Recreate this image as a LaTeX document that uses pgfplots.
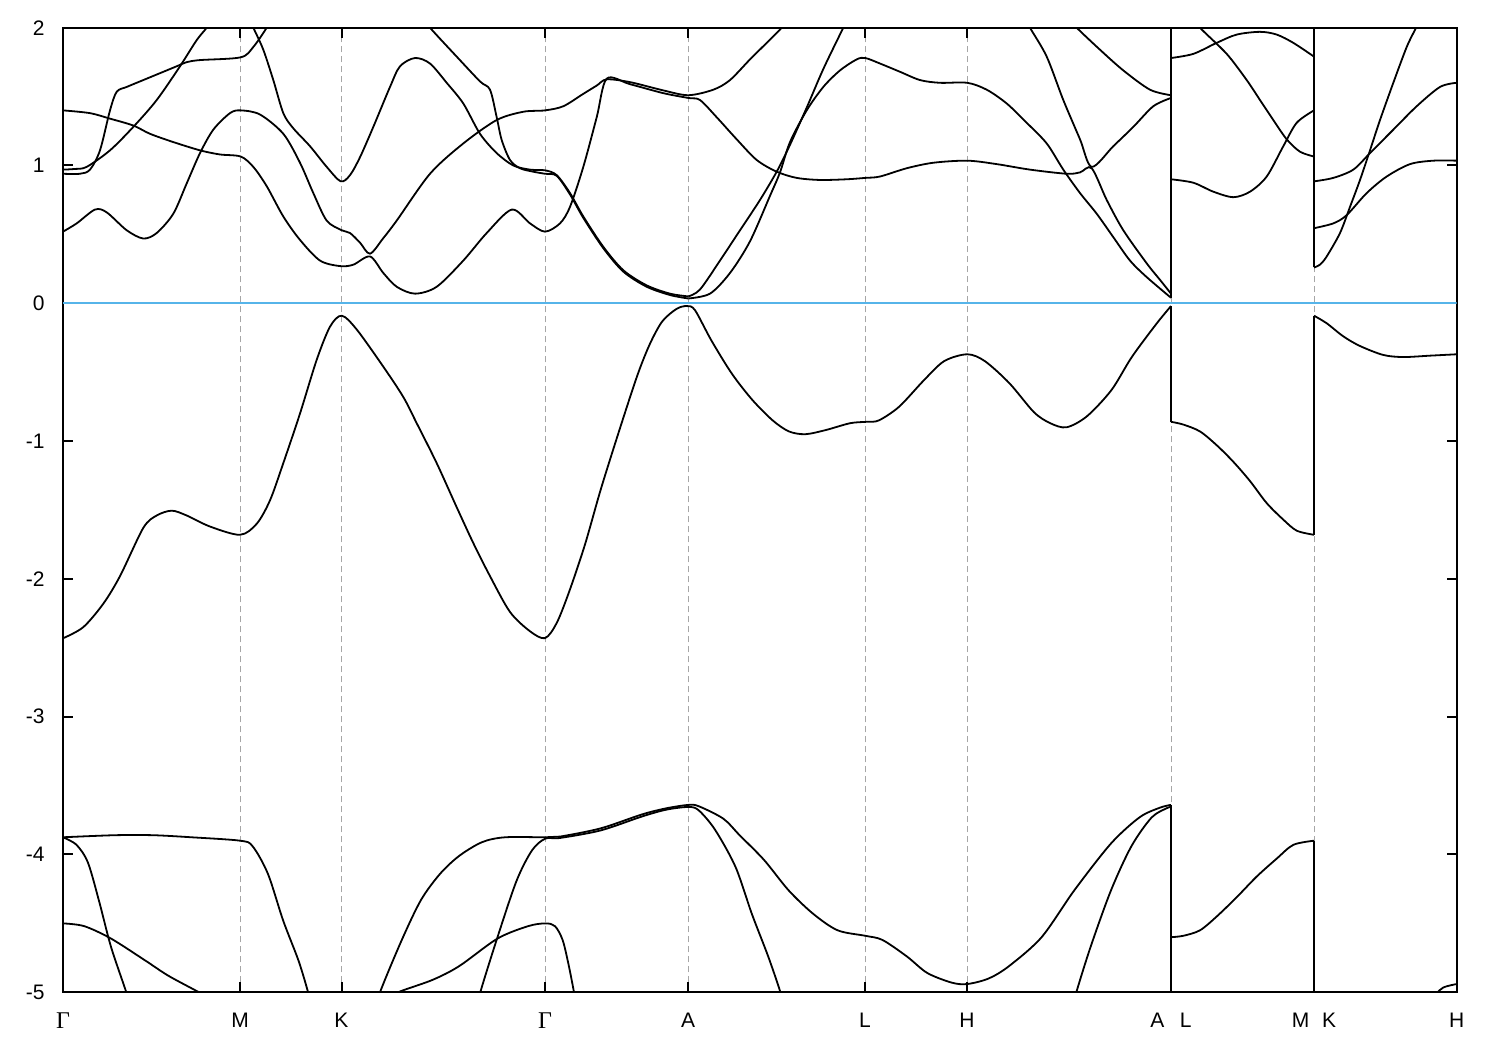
\documentclass[border=0pt]{standalone}
\usepackage{pgfplots}
\pgfplotsset{compat=1.18}
\usepackage{fontspec}
\setmainfont{Liberation Sans}
\newfontfamily\gfont{Liberation Serif}
\definecolor{fermi}{RGB}{86,180,233}
\begin{document}
\begin{tikzpicture}
\useasboundingbox (-31.5pt,-28.85pt) rectangle (718.5pt,496.15pt);
\pgfplotsset{band/.style={black, line width=0.9pt, smooth}, jump/.style={black, line width=0.9pt}}
\begin{axis}[
  at={(0,0)}, anchor=south west,
  scale only axis, width=696.85pt, height=482.3pt,
  xmin=63, xmax=1456.7, ymin=-5, ymax=2,
  axis line style={line width=1pt},
  tick style={black, line width=1pt},
  major tick length=5pt, tick align=inside,
  xtick={63,240,341.5,545,688,865,967,1171,1314,1456.7},
  xticklabels={{\gfont\fontsize{12}{12}\selectfont Γ},M,K,{\gfont\fontsize{12}{12}\selectfont Γ},A,L,H,{A\hspace{7.8pt}L},{M\hspace{6.3pt}K},H},
  ytick={-5,-4,-3,-2,-1,0,1,2},
  yticklabels={-5,-4,-3,-2,-1,0,1,2},
  xmajorgrids, major grid style={densely dashed, gray!70, line width=0.5pt},
  every tick label/.append style={font=\fontsize{10.5}{12}\selectfont},
  yticklabel style={inner sep=0pt, xshift=-9pt},
  xticklabel style={inner sep=0pt, yshift=-10pt},
]
% Fermi level
\addplot[fermi, line width=1pt] coordinates {(63,0) (1456.7,0)};
% valence band
\addplot[band] coordinates {(63.3,-2.43) (83.3,-2.35) (103.3,-2.18) (120,-1.98) (143.3,-1.63) (156.7,-1.54) (171.7,-1.505) (186.7,-1.54) (210,-1.62) (240,-1.68) (256.7,-1.60) (270,-1.43) (283.3,-1.16) (300,-0.80) (316.7,-0.41) (330,-0.17) (341.7,-0.09) (356.7,-0.19) (383.3,-0.46) (403.3,-0.68) (416.7,-0.87) (436.7,-1.16) (456.7,-1.48) (473.3,-1.74) (490,-1.98) (510,-2.24) (530,-2.38) (545,-2.43) (556.7,-2.32) (569.3,-2.09) (585,-1.75) (601.2,-1.34) (621.6,-0.87) (638,-0.51) (650.2,-0.29) (662.4,-0.13) (676.7,-0.04) (687,-0.02) (695,-0.05) (711.4,-0.27) (731.8,-0.51) (752.2,-0.70) (772.7,-0.85) (789,-0.93) (805.3,-0.95) (825.7,-0.92) (850.2,-0.87) (866.5,-0.86) (878.8,-0.85) (899.2,-0.75) (923.7,-0.56) (944.1,-0.42) (967.3,-0.37) (984.9,-0.42) (1009.4,-0.58) (1033.9,-0.79) (1050.2,-0.87) (1066.5,-0.90) (1086.9,-0.82) (1111.4,-0.63) (1131.8,-0.39) (1156.3,-0.15) (1171,-0.02)};
\addplot[band] coordinates {(1171,-0.86) (1183.3,-0.88) (1200,-0.93) (1216.7,-1.03) (1233.3,-1.15) (1250,-1.29) (1266.7,-1.45) (1283.3,-1.57) (1296.7,-1.65) (1314,-1.68)};
\addplot[band] coordinates {(1314,-0.09) (1326.7,-0.145) (1343.3,-0.24) (1360,-0.31) (1383.3,-0.375) (1403.3,-0.39) (1430,-0.38) (1456.7,-0.37)};
% lower bands
\addplot[band] coordinates {(63,-3.875) (114.8,-3.86) (153,-3.86) (191.4,-3.875) (240.3,-3.90) (252.6,-3.94) (267.9,-4.14) (283.2,-4.48) (298.5,-4.77) (308.1,-5.0) (315,-5.2)};
\addplot[band] coordinates {(372,-5.2) (380,-5.0) (401.8,-4.62) (421,-4.33) (440.1,-4.14) (459.2,-4.01) (482.2,-3.91) (505.2,-3.875) (545.3,-3.875) (560,-3.87) (600.8,-3.81) (641.6,-3.71) (666.1,-3.665) (688.6,-3.64) (698.8,-3.65) (723.3,-3.74) (739.6,-3.86) (764.1,-4.04) (788.6,-4.26) (813.1,-4.43) (837.6,-4.55) (865.3,-4.59) (882.4,-4.62) (906.9,-4.74) (927.3,-4.86) (951.8,-4.93) (967.3,-4.94) (988.6,-4.90) (1009,-4.81) (1041.6,-4.60) (1074.3,-4.26) (1111,-3.92) (1139.6,-3.73) (1160,-3.66) (1171,-3.64)};
\addplot[band] coordinates {(1171,-4.60) (1183.3,-4.59) (1200,-4.55) (1216.7,-4.45) (1236.7,-4.31) (1256.7,-4.16) (1276.7,-4.03) (1293.3,-3.93) (1314,-3.90)};
\addplot[band] coordinates {(1314,-5.6) (1380,-5.4) (1420,-5.15) (1435,-5.02) (1443.3,-4.965) (1456.7,-4.94)};
\addplot[band] coordinates {(63,-3.875) (76.5,-3.93) (88,-4.06) (99.5,-4.35) (111,-4.67) (126.3,-5.0) (130,-5.1)};
\addplot[band] coordinates {(476,-5.15) (480.3,-5.0) (497.5,-4.60) (516.6,-4.19) (532,-3.97) (545.3,-3.885) (560,-3.88) (600.8,-3.825) (641.6,-3.725) (666.1,-3.675) (688.6,-3.655) (698.8,-3.68) (715,-3.82) (735.5,-4.09) (751.8,-4.43) (768.2,-4.74) (780.4,-5.0) (783,-5.1)};
\addplot[band] coordinates {(1073,-5.1) (1076.3,-5.0) (1090.6,-4.67) (1111,-4.26) (1131.4,-3.94) (1151.8,-3.73) (1168,-3.66) (1171,-3.655)};
\addplot[band] coordinates {(63.1,-4.50) (84.2,-4.52) (111,-4.61) (145.4,-4.77) (168.4,-4.88) (199,-5.0) (210,-5.05)};
\addplot[band] coordinates {(390,-5.05) (398,-5.0) (432.5,-4.91) (459.2,-4.81) (497.5,-4.61) (528.1,-4.52) (545.3,-4.50) (555,-4.52) (562.6,-4.62) (568.3,-4.79) (574,-5.0) (576,-5.1)};
% conduction bands
\addplot[band] coordinates {(63,0.52) (76.7,0.58) (95,0.68) (106.7,0.66) (126.7,0.53) (143.3,0.47) (156.7,0.51) (173.3,0.65) (186.7,0.87) (200,1.09) (213.3,1.26) (230,1.38) (240.7,1.40) (260,1.37) (283.3,1.23) (300,1.02) (313.3,0.80) (326.7,0.60) (341.7,0.53) (350,0.51) (360,0.44) (370,0.36) (383,0.47) (396.7,0.60) (430,0.94) (463.3,1.16) (496.7,1.33) (523.3,1.39) (545,1.40) (563.3,1.43) (583.3,1.52) (596.7,1.58) (606.7,1.625) (630,1.605) (663.3,1.545) (688.3,1.51) (713.3,1.55) (730,1.62) (750,1.77) (766.7,1.89) (781.7,2.0) (790,2.08)};
\addplot[band] coordinates {(63,1.40) (90,1.38) (110,1.34) (133.3,1.29) (150,1.23) (173.3,1.17) (200,1.11) (220,1.08) (240.7,1.065) (253.3,0.99) (266.7,0.85) (283.3,0.63) (300,0.46) (320,0.31) (340,0.27) (353.3,0.28) (370,0.34) (383.3,0.22) (396.7,0.12) (415,0.07) (436.7,0.12) (463.3,0.31) (486.7,0.51) (511.7,0.68) (530,0.58) (545,0.52) (560,0.58) (570,0.70) (583.3,0.99) (596.7,1.35) (606.7,1.63) (630,1.59) (663.3,1.525) (688.3,1.49) (700,1.475) (716.7,1.35) (736.7,1.19) (756.7,1.04) (776.7,0.955) (796.7,0.91) (820,0.895) (846.7,0.90) (865.3,0.91) (880,0.92) (906.7,0.98) (933.3,1.02) (967.3,1.035) (996.7,1.01) (1030,0.97) (1066.7,0.94) (1080,0.95) (1091.7,0.98) (1106.7,0.75) (1123.3,0.53) (1146.7,0.29) (1160,0.17) (1171,0.07)};
\addplot[band] coordinates {(63,0.94) (80,0.94) (90,0.97) (100,1.11) (110,1.40) (116.7,1.535) (126.7,1.57) (143.3,1.62) (160,1.67) (176.7,1.72) (186.7,1.75) (200,1.765) (240.7,1.785) (253.3,1.86) (266.7,2.0) (272,2.08)};
\addplot[band] coordinates {(63,0.97) (75,0.975) (86.7,0.99) (110,1.11) (133.3,1.28) (156.7,1.475) (180,1.72) (196.7,1.91) (206.7,2.0) (212,2.07)};
\addplot[band] coordinates {(248,2.08) (253.3,2.0) (263.3,1.84) (273.3,1.62) (283.3,1.38) (293.3,1.27) (310,1.14) (326.7,0.99) (340.7,0.885) (350,0.93) (360,1.06) (373.3,1.28) (390,1.57) (400,1.72) (415,1.78) (430,1.74) (446.7,1.60) (463.3,1.45) (480,1.23) (496.7,1.09) (513.3,1.00) (530,0.97) (545,0.965) (556.7,0.93) (570,0.80) (583.3,0.63) (603.3,0.41) (623.3,0.24) (646.7,0.13) (670,0.07) (688.3,0.05)};
\addplot[band] coordinates {(425,2.06) (430,2.0) (456.7,1.79) (480,1.61) (490,1.55) (496.7,1.35) (501.7,1.185) (510,1.04) (520,0.98) (533.3,0.955) (545,0.94) (556.7,0.925) (570,0.79) (583.3,0.62) (603.3,0.40) (623.3,0.23) (646.7,0.12) (670,0.06) (688.3,0.035)};
\addplot[band] coordinates {(688.3,0.05) (700,0.10) (720,0.31) (740,0.53) (760,0.75) (776.7,0.955) (790,1.15) (806.7,1.42) (823.3,1.70) (843.3,2.0) (848,2.07)};
\addplot[band] coordinates {(688.3,0.035) (710,0.07) (730,0.22) (750,0.45) (770,0.78) (780,0.95) (790,1.17) (806.7,1.40) (823.3,1.57) (840,1.69) (856.7,1.77) (865.3,1.78) (880,1.74) (900,1.68) (920,1.62) (940,1.60) (967.3,1.60) (986.7,1.55) (1006.7,1.45) (1026.7,1.31) (1046.7,1.16) (1063.3,0.97) (1080,0.80) (1096.7,0.65) (1113.3,0.48) (1130,0.31) (1146.7,0.19) (1171,0.04)};
\addplot[band] coordinates {(1025,2.08) (1030,2.0) (1046.7,1.79) (1063.3,1.475) (1080,1.19) (1091.7,0.99) (1113.3,1.14) (1133.3,1.28) (1153.3,1.43) (1171,1.49)};
\addplot[band] coordinates {(1072,2.05) (1076.7,2.0) (1100,1.84) (1123.3,1.69) (1150,1.55) (1171,1.51)};
\addplot[band] coordinates {(1171,1.78) (1193.3,1.81) (1216.7,1.89) (1236.7,1.95) (1260,1.97) (1276.7,1.95) (1293.3,1.89) (1314,1.79)};
\addplot[band] coordinates {(1196,2.06) (1200,2.0) (1226.7,1.81) (1246.7,1.62) (1260,1.475) (1273.3,1.33) (1286.7,1.19) (1300,1.10) (1314,1.065)};
\addplot[band] coordinates {(1171,0.90) (1193.3,0.875) (1213.3,0.81) (1233.3,0.77) (1250,0.81) (1266.7,0.92) (1283.3,1.14) (1296.7,1.31) (1314,1.40)};
\addplot[band] coordinates {(1314,0.885) (1333.3,0.91) (1353.3,0.97) (1370,1.09) (1393.3,1.26) (1416.7,1.43) (1440,1.57) (1456.7,1.60)};
\addplot[band] coordinates {(1314,0.26) (1320,0.28) (1326.7,0.34) (1340,0.51) (1350,0.70) (1360,0.895) (1370,1.11) (1380,1.33) (1393.3,1.60) (1406.7,1.86) (1416,2.0) (1419,2.06)};
\addplot[band] coordinates {(1314,0.545) (1333.3,0.58) (1346.7,0.64) (1366.7,0.80) (1386.7,0.92) (1410,1.01) (1433.3,1.035) (1456.7,1.035)};
% discontinuities
\addplot[jump] coordinates {(1171,0.04) (1171,2.1)};
\addplot[jump] coordinates {(1314,0.26) (1314,2.1)};
\addplot[jump] coordinates {(1171,-0.02) (1171,-0.86)};
\addplot[jump] coordinates {(1314,-1.68) (1314,-0.09)};
\addplot[jump] coordinates {(1171,-3.64) (1171,-5.6)};
\addplot[jump] coordinates {(1314,-3.90) (1314,-5.6)};
\end{axis}
\end{tikzpicture}
\end{document}
